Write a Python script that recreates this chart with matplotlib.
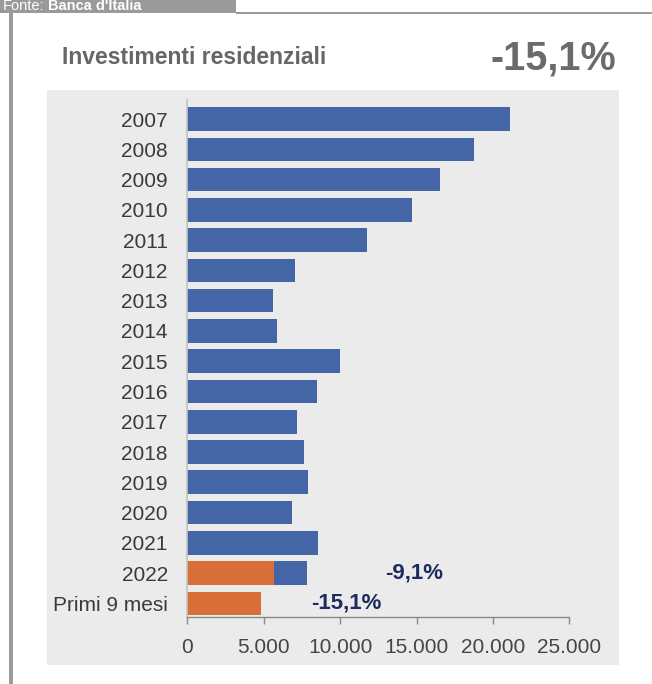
import matplotlib
matplotlib.use("Agg")
import matplotlib.pyplot as plt
from matplotlib.patches import Rectangle
from matplotlib.ticker import FuncFormatter

# Investimenti residenziali (valori annui) e confronto 2022 / primi 9 mesi
categories = ["2007", "2008", "2009", "2010", "2011", "2012", "2013", "2014",
              "2015", "2016", "2017", "2018", "2019", "2020", "2021", "2022",
              "Primi 9 mesi"]
annual_values = [21100, 18750, 16550, 14700, 11750, 7070, 5600, 5900,
                 10000, 8500, 7150, 7650, 7880, 6880, 8570, 7850, None]
partial_values = [None] * 15 + [5650, 4800]
change_labels = ["-9,1%", "-15,1%"]
change_rows = [15, 16]
headline = "-15,1%"
title = "Investimenti residenziali"
source_label = "Fonte:"
source_name = "Banca d'Italia"
x_ticks = [0, 5000, 10000, 15000, 20000, 25000]

W, H = 652, 684
BLUE = "#4465a6"
ORANGE = "#d96f38"
NAVY = "#1e2b5c"
PANEL = "#ebebeb"
FRAME = "#9a9a9a"

NARROW = ["Liberation Sans Narrow", "Liberation Sans", "DejaVu Sans"]
SANS = ["Liberation Sans", "DejaVu Sans"]

fig = plt.figure(figsize=(W / 100, H / 100), dpi=100)
fig.patch.set_facecolor("white")


def fx(px):
    return px / W


def fy(py):
    return 1 - py / H


def box(x0, y0, x1, y1, color, z=0):
    fig.add_artist(Rectangle((fx(x0), fy(y1)), fx(x1) - fx(x0), fy(y0) - fy(y1),
                             transform=fig.transFigure, facecolor=color,
                             edgecolor="none", zorder=z))


# frame: source tab, top rule and left rule
box(0, 0, 236, 13, FRAME, z=1)
box(236, 11.5, W, 14, FRAME, z=1)
box(9, 0, 12.5, H, FRAME, z=1)
fig.text(fx(3), fy(6.5), source_label, color="white", fontsize=10.5,
         family=SANS, ha="left", va="center", zorder=2)
fig.text(fx(48), fy(6.5), source_name, color="white", fontsize=10.5,
         family=SANS, weight="bold", ha="left", va="center", zorder=2)

# header
fig.text(fx(62), fy(57), title, color="#666666", fontsize=16.5, family=NARROW,
         weight="bold", ha="left", va="center")
fig.text(fx(616), fy(59), headline, color="#6b6b6b", fontsize=28.5, family=NARROW,
         weight="bold", ha="right", va="center")

# grey panel behind the chart
box(47, 90, 619, 665, PANEL, z=0)

# bar chart axes
ax = fig.add_axes([fx(187.3), fy(617), fx(569.3) - fx(187.3), fy(100) - fy(617)])
ax.set_facecolor("none")
ax.set_zorder(3)

ypos = list(range(len(categories)))
bar_h = 0.78
for i, v in enumerate(annual_values):
    if v is not None:
        ax.barh(i, v, height=bar_h, color=BLUE, edgecolor="none")
for i, v in enumerate(partial_values):
    if v is not None:
        ax.barh(i, v, height=bar_h, color=ORANGE, edgecolor="none")

for row, lab, xpos in zip(change_rows, change_labels, [12950, 8100]):
    ax.text(xpos, row, lab, color=NAVY, fontsize=16, family=SANS,
            weight="bold", ha="left", va="center")

ax.set_xlim(0, 25000)
ax.set_ylim(len(categories) - 1 + 0.45, -0.63)
ax.set_yticks(ypos)
ax.set_yticklabels(categories)
ax.set_xticks(x_ticks)
ax.xaxis.set_major_formatter(FuncFormatter(lambda v, p: f"{int(v):,}".replace(",", ".")))

for s in ("top", "right"):
    ax.spines[s].set_visible(False)
ax.spines["left"].set_color("#c4c4c4")
ax.spines["left"].set_linewidth(1.2)
ax.spines["bottom"].set_color("#8a8a8a")
ax.spines["bottom"].set_linewidth(1.0)

ax.tick_params(axis="y", length=0, pad=14, labelsize=15, labelcolor="#3a3a3a")
ax.tick_params(axis="x", direction="out", length=5, width=1.0, color="#8a8a8a",
               pad=10, labelsize=15, labelcolor="#454545")
for lbl in ax.get_yticklabels() + ax.get_xticklabels():
    lbl.set_family(SANS)

fig.savefig("out.png", dpi=100, facecolor="white")
